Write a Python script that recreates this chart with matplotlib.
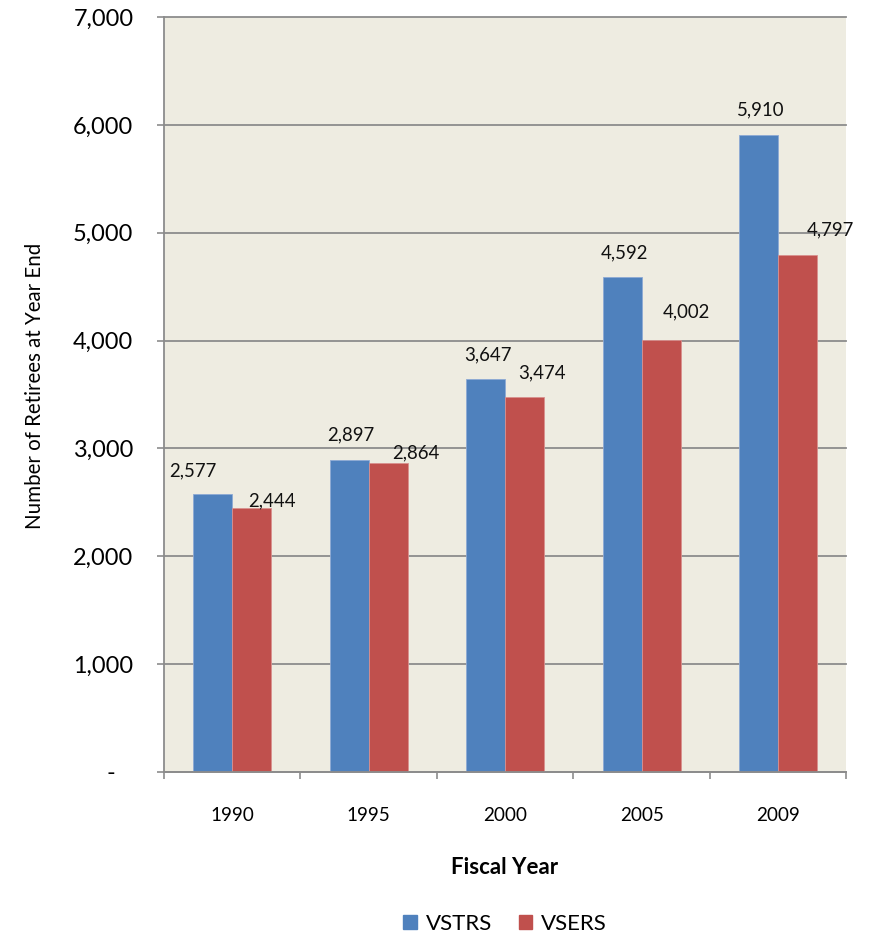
import numpy as np
import matplotlib
matplotlib.use("Agg")
import matplotlib.pyplot as plt
from matplotlib.patches import Patch

# chart data
years = ["1990", "1995", "2000", "2005", "2009"]
vstrs = [2577, 2897, 3647, 4592, 5910]
vsers = [2444, 2864, 3474, 4002, 4797]
y_ticks = [0, 1000, 2000, 3000, 4000, 5000, 6000, 7000]
y_tick_labels = ["-   ", "1,000", "2,000", "3,000", "4,000", "5,000", "6,000", "7,000"]

# label placement (pixels: shift from bar centre, height above bar top)
vstrs_lbl_dx = [-20, 2, 2, 2, 2]
vstrs_lbl_dy = [23, 25, 24, 24, 25]
vsers_lbl_dx = [20, 28, 17, 25, 33]
vsers_lbl_dy = [8, 10, 24, 28, 25]

blue = "#4F81BD"
red = "#C0504D"
bg = "#EEECE1"
grid_col = "#8C8C8C"

plt.rcParams['font.family'] = ['Lato', 'DejaVu Sans']

fig = plt.figure(figsize=(8.7, 9.35), dpi=100)
ax = fig.add_axes([164 / 870, 1 - 772 / 935, 682.5 / 870, 755 / 935])
ax.set_facecolor(bg)

x = np.arange(len(years))
w = 0.2857
ax.bar(x - w / 2, vstrs, w, color=blue, edgecolor="#8DA9D4", linewidth=0.6, zorder=3)
ax.bar(x + w / 2, vsers, w, color=red, edgecolor="#D9908E", linewidth=0.6, zorder=3)

# data labels
for i in range(len(years)):
    ax.annotate(f"{vstrs[i]:,}", (x[i] - w / 2, vstrs[i]),
                xytext=(vstrs_lbl_dx[i], vstrs_lbl_dy[i]), textcoords="offset pixels",
                ha="center", va="center", fontsize=13.4, color="#111111", zorder=4)
    ax.annotate(f"{vsers[i]:,}", (x[i] + w / 2, vsers[i]),
                xytext=(vsers_lbl_dx[i], vsers_lbl_dy[i]), textcoords="offset pixels",
                ha="center", va="center", fontsize=13.4, color="#111111", zorder=4)

ax.set_xlim(-0.5, len(years) - 0.5)
ax.set_ylim(0, 7000)
ax.set_yticks(y_ticks)
ax.set_yticklabels(y_tick_labels, fontsize=16.9)
ax.set_xticks(x)
ax.set_xticklabels(years, fontsize=13.6)
ax.set_xticks(np.arange(len(years) + 1) - 0.5, minor=True)

ax.tick_params(axis="y", length=5, width=1.2, color=grid_col, pad=17)
ax.tick_params(axis="x", which="major", length=0, pad=25)
ax.tick_params(axis="x", which="minor", length=5, width=1.2, color=grid_col)

ax.grid(axis="y", color=grid_col, linewidth=1.3, zorder=1)
for line in ax.get_ygridlines():
    line.set_clip_on(False)
ax.set_axisbelow(True)

for s in ["top", "right"]:
    ax.spines[s].set_visible(False)
for s in ["left", "bottom"]:
    ax.spines[s].set_color(grid_col)
    ax.spines[s].set_linewidth(1.3)
    ax.spines[s].set_zorder(5)

fig.text(35 / 870, 1 - 386 / 935, "Number of Retirees at Year End",
         rotation=90, ha="center", va="center", fontsize=14.8)
fig.text(505 / 870, 1 - 868 / 935, "Fiscal Year", ha="center", va="center",
         fontsize=16, fontweight="bold")

handles = [Patch(color=blue, label="VSTRS"), Patch(color=red, label="VSERS")]
fig.legend(handles=handles, loc="center", bbox_to_anchor=(505 / 870, 1 - 924 / 935),
           ncol=2, frameon=False, fontsize=16, handlelength=0.62, handleheight=0.62,
           handletextpad=0.4, columnspacing=1.2)

fig.savefig("out.png", dpi=100)
